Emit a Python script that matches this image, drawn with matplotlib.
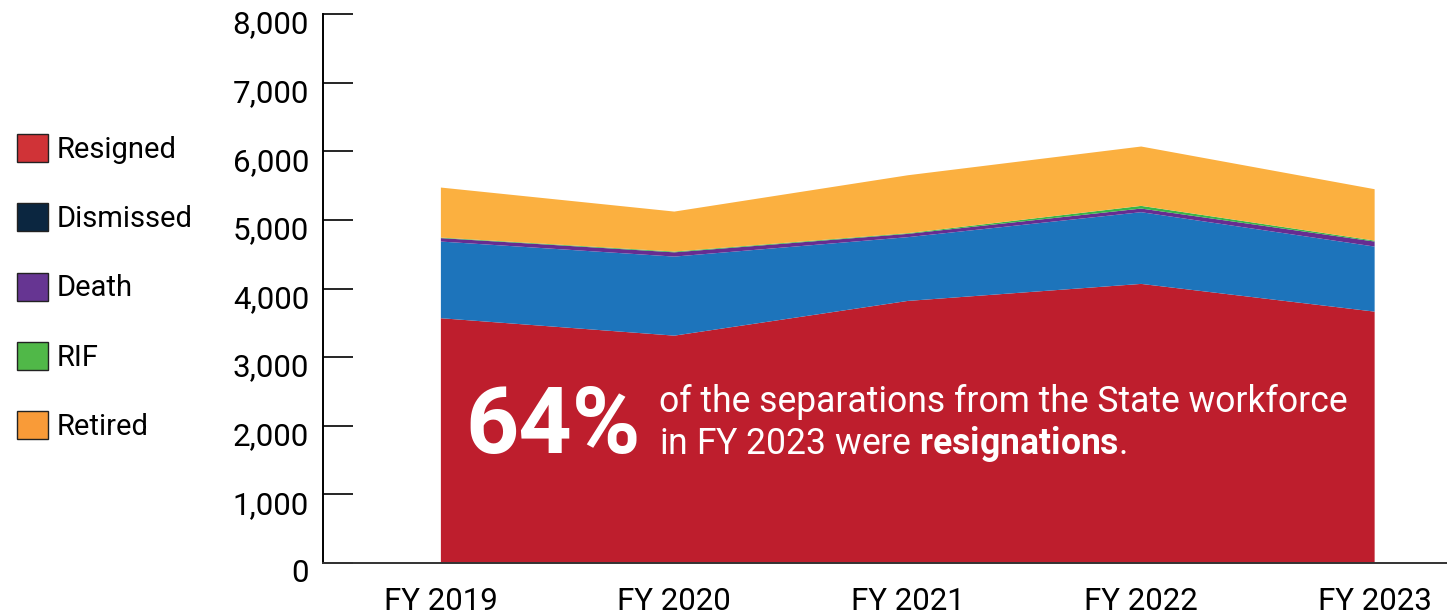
import matplotlib
matplotlib.use("Agg")
import matplotlib.pyplot as plt
from matplotlib.patches import Patch
from matplotlib.transforms import ScaledTranslation

plt.rcParams['font.family'] = ['Roboto', 'DejaVu Sans']
plt.rcParams['mathtext.fontset'] = 'custom'
plt.rcParams['mathtext.rm'] = 'Roboto'
plt.rcParams['mathtext.bf'] = 'Roboto:bold'

# separations by fiscal year
years = ['FY 2019', 'FY 2020', 'FY 2021', 'FY 2022', 'FY 2023']
resigned = [3567, 3313, 3819, 4067, 3663]
dismissed = [1117, 1152, 929, 1045, 948]
death = [50, 62, 48, 53, 73]
rif = [8, 11, 10, 39, 14]
retired = [729, 583, 844, 865, 749]

labels = ['Resigned', 'Dismissed', 'Death', 'RIF', 'Retired']
area_colors = ['#be1e2d', '#1d74bb', '#662d91', '#39b54a', '#fbb040']
key_colors = ['#d03337', '#0b2640', '#663592', '#50b848', '#f99b38']

fig = plt.figure(figsize=(14.47, 6.15), dpi=100)
ax = fig.add_axes([323 / 1447, 1 - 563 / 615, 1 - 323 / 1447, (563 - 14) / 615])

x = list(range(len(years)))
ax.stackplot(x, resigned, dismissed, death, rif, retired,
             colors=area_colors, linewidth=0)

ax.set_xlim(-0.505, 4.31)
ax.set_ylim(0, 8000)
ax.set_yticks(range(0, 8001, 1000))
ax.set_yticklabels([f'{v:,}' for v in range(0, 8001, 1000)])
ax.set_xticks(x)
ax.set_xticklabels(years)

for side in ['top', 'right']:
    ax.spines[side].set_visible(False)
ax.spines['left'].set_linewidth(1.4)
ax.spines['bottom'].set_linewidth(1.4)
ax.spines['bottom'].set_color('#333333')
ax.tick_params(axis='y', direction='in', length=21.5, width=1.2,
               pad=10, labelsize=22.5, colors='black')
ax.tick_params(axis='x', length=0, pad=17, labelsize=22.5)

# nudge y labels down a little under their ticks
for lab in ax.get_yticklabels():
    lab.set_transform(lab.get_transform() +
                      ScaledTranslation(0, -8 / 100, fig.dpi_scale_trans))

# callout on the resigned band
ax.text(0.107, 1599, '64%', color='white', fontsize=67,
        fontweight='bold', va='baseline', ha='left')
ax.text(0.935, 2205, 'of the separations from the State workforce',
        color='white', fontsize=25.6, va='baseline', ha='left')
ax.text(0.935, 1585, r'in FY 2023 were $\mathbf{resignations}$.',
        color='white', fontsize=25.6, va='baseline', ha='left')

handles = [Patch(facecolor=c, edgecolor='#222222', linewidth=1.0)
           for c in key_colors]
fig.legend(handles, labels, loc='upper left',
           bbox_to_anchor=(17 / 1447, 1 - 134 / 615),
           frameon=False, fontsize=21, handlelength=1.05, handleheight=1.1,
           handletextpad=0.3, labelspacing=1.35, borderpad=0, borderaxespad=0)

fig.savefig('out.png', dpi=100)
